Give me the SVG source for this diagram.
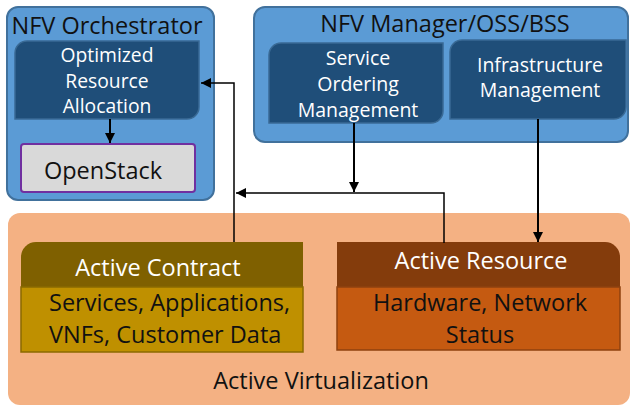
<svg xmlns="http://www.w3.org/2000/svg" width="631" height="407" viewBox="0 0 631 407">
<style>
.outer{fill:#5B9BD5;stroke:#41719C;stroke-width:2}
.inner{fill:#1F4E79;stroke:#3A6A95;stroke-width:1.5}
.t{font-family:"Open Sans","Liberation Sans",sans-serif;text-anchor:middle}
.w{fill:#FFFFFF}
.k{fill:#111111}
.c{fill:none;stroke:#000;stroke-width:2}
.c1{fill:none;stroke:#000;stroke-width:1.5}
</style>
<defs>
<marker id="ah2" viewBox="0 0 10 10" refX="10" refY="5" markerWidth="10" markerHeight="10" orient="auto" markerUnits="userSpaceOnUse">
<path d="M0,0 L10,5 L0,10 Z" fill="#000"/>
</marker>
</defs>

<g id="active-virtualization">
<rect x="8" y="213" width="622" height="192" rx="12" fill="#F4B183"/>
<text class="t k" x="321" y="389" font-size="23.5">Active Virtualization</text>
</g>

<g id="nfv-orchestrator">
<rect class="outer" x="7" y="7" width="207" height="193" rx="11"/>
<text class="t k" x="107" y="34" font-size="23.5">NFV Orchestrator</text>
</g>

<g id="optimized-resource-allocation">
<path class="inner" d="M27,41 H199 V107 A12,12 0 0 1 187,119 H15 V53 A12,12 0 0 1 27,41 Z"/>
<text class="t w" font-size="19.3"><tspan x="107" y="62">Optimized</tspan><tspan x="107" y="88">Resource</tspan><tspan x="107" y="113">Allocation</tspan></text>
</g>

<g id="openstack">
<rect x="21" y="144" width="174" height="48" rx="3" fill="#D9D9D9" stroke="#7030A0" stroke-width="2"/>
<text class="t k" x="103" y="179" font-size="23.5">OpenStack</text>
</g>

<g id="nfv-manager">
<rect class="outer" x="254" y="7" width="374" height="135" rx="11"/>
<text class="t k" x="445" y="32" font-size="23.5">NFV Manager/OSS/BSS</text>
</g>

<g id="service-ordering-management">
<path class="inner" d="M281,43 H443 V111 A12,12 0 0 1 431,123 H269 V55 A12,12 0 0 1 281,43 Z"/>
<text class="t w" font-size="19.5"><tspan x="358" y="65">Service</tspan><tspan x="358" y="91">Ordering</tspan><tspan x="358" y="117">Management</tspan></text>
</g>

<g id="infrastructure-management">
<path class="inner" d="M462,40 H626 V107 A12,12 0 0 1 614,119 H450 V52 A12,12 0 0 1 462,40 Z"/>
<text class="t w" font-size="19.5"><tspan x="540" y="72">Infrastructure</tspan><tspan x="540" y="97">Management</tspan></text>
</g>

<g id="active-contract">
<path d="M36,242 H303 V287 H21 V257 A15,15 0 0 1 36,242 Z" fill="#7F6000"/>
<rect x="21" y="287" width="282" height="65" fill="#BF9000" stroke="#8A6A00" stroke-width="1.5"/>
<text class="t w" x="158" y="276" font-size="23.5">Active Contract</text>
<text class="t k" font-size="23.5" style="text-anchor:start"><tspan x="49" y="311">Services, Applications,</tspan><tspan x="49" y="343">VNFs, Customer Data</tspan></text>
</g>

<g id="active-resource">
<path d="M337,242 H605 A15,15 0 0 1 620,257 V287 H337 Z" fill="#843C0C"/>
<rect x="337" y="287" width="283" height="63" fill="#C55A11" stroke="#8E420F" stroke-width="1.5"/>
<text class="t w" x="481" y="269" font-size="23.5">Active Resource</text>
<text class="t k" font-size="23.5"><tspan x="480" y="311">Hardware, Network</tspan><tspan x="480" y="343">Status</tspan></text>
</g>

<g id="connectors">
<path class="c" d="M110,119 V143" marker-end="url(#ah2)"/>
<path class="c1" d="M234,242 V83 H201" marker-end="url(#ah2)"/>
<path class="c1" d="M444,243 V193 H236" marker-end="url(#ah2)"/>
<path class="c" d="M354,123 V192" marker-end="url(#ah2)"/>
<path class="c" d="M538,119 V242" marker-end="url(#ah2)"/>
</g>
</svg>
